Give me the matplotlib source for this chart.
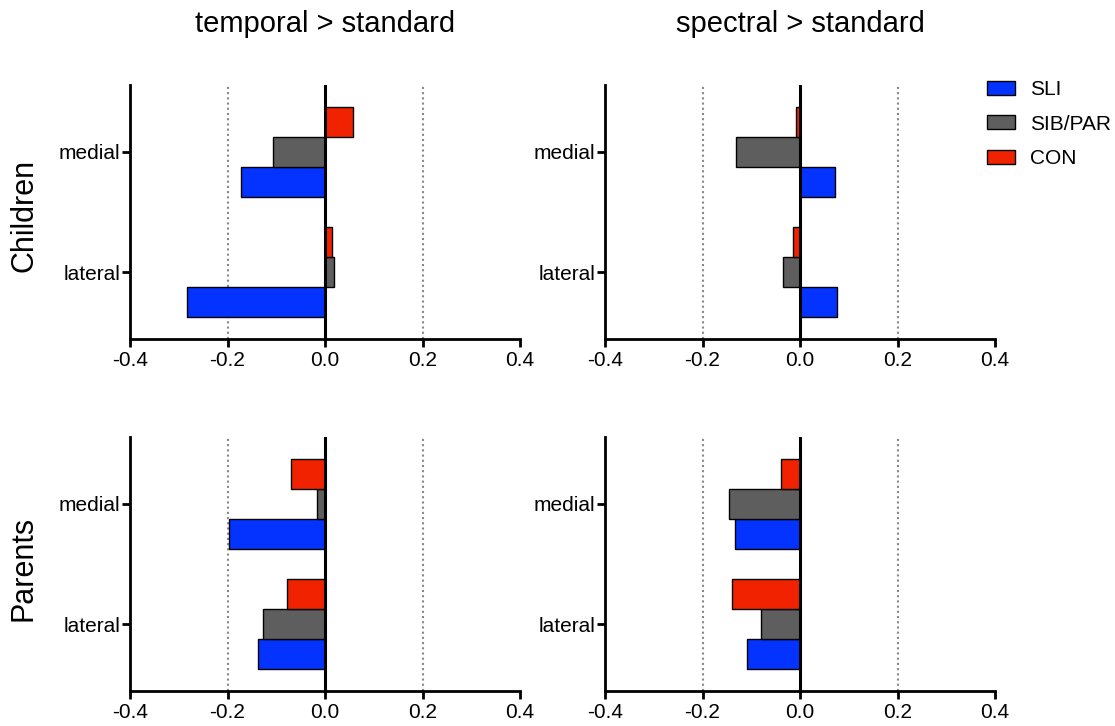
import matplotlib.pyplot as plt
from matplotlib.patches import Patch
import numpy as np

plt.rcParams['font.family'] = ['Liberation Sans', 'DejaVu Sans']

regions = ['lateral', 'medial']  # y = 0, 1 (medial on top)
groups = ['SLI', 'SIB/PAR', 'CON']
colors = {'SLI': '#0433FF', 'SIB/PAR': '#5E5E5E', 'CON': '#F12200'}
titles = ['temporal > standard', 'spectral > standard']
rows = ['Children', 'Parents']

# values per group: [lateral, medial]
child_temporal = {'SLI': [-0.283, -0.173], 'SIB/PAR': [0.019, -0.106], 'CON': [0.014, 0.057]}
child_spectral = {'SLI': [0.075, 0.072], 'SIB/PAR': [-0.035, -0.131], 'CON': [-0.015, -0.008]}
parent_temporal = {'SLI': [-0.138, -0.197], 'SIB/PAR': [-0.128, -0.017], 'CON': [-0.078, -0.069]}
parent_spectral = {'SLI': [-0.108, -0.134], 'SIB/PAR': [-0.080, -0.145], 'CON': [-0.140, -0.040]}

panels = [[child_temporal, child_spectral], [parent_temporal, parent_spectral]]

fig = plt.figure(figsize=(11.15, 7.26), dpi=100)

lefts = [130 / 1115, 605 / 1115]
bottoms = [1 - 339 / 726, 1 - 691 / 726]
w = 390 / 1115
h = 254 / 726
bh = 0.248
offs = {'SLI': -bh, 'SIB/PAR': 0.0, 'CON': bh}

for r in range(2):
    for c in range(2):
        ax = fig.add_axes([lefts[c], bottoms[r], w, h])
        data = panels[r][c]
        y = np.arange(len(regions))
        for g in groups:
            ax.barh(y + offs[g], data[g], height=bh, color=colors[g],
                    edgecolor='black', linewidth=1, zorder=3)
        ax.axvline(0, color='black', lw=2.2, zorder=4)
        for xv in (-0.2, 0.2):
            ax.axvline(xv, color='#888888', lw=1.5, ls=(0, (1, 1.5)), zorder=1)
        ax.set_xlim(-0.4, 0.4)
        ax.set_ylim(-0.55, 1.55)
        ax.set_xticks([-0.4, -0.2, 0.0, 0.2, 0.4])
        ax.set_xticklabels(['-0.4', '-0.2', '0.0', '0.2', '0.4'])
        ax.set_yticks(y)
        ax.set_yticklabels(regions)
        ax.spines['top'].set_visible(False)
        ax.spines['right'].set_visible(False)
        ax.spines['left'].set_linewidth(2)
        ax.spines['bottom'].set_linewidth(2)
        ax.tick_params(axis='both', labelsize=15, width=2, length=6, direction='out')
        ax.tick_params(axis='y', pad=1)
        ax.tick_params(axis='x', pad=3)

for c in range(2):
    fig.text(lefts[c] + w / 2, 1 - 24 / 726, titles[c], ha='center', va='center', fontsize=21)

fig.text(24 / 1115, 1 - 215 / 726, rows[0], rotation=90, ha='center', va='center', fontsize=22)
fig.text(24 / 1115, 1 - 568 / 726, rows[1], rotation=90, ha='center', va='center', fontsize=22)

handles = [Patch(facecolor=colors[g], edgecolor='black', linewidth=1) for g in groups]
fig.legend(handles, groups, loc='upper left', bbox_to_anchor=(987 / 1115, 1 - 80 / 726),
           frameon=False, fontsize=15, handlelength=1.35, handleheight=0.65,
           labelspacing=0.75, handletextpad=0.7, borderpad=0, borderaxespad=0)

fig.savefig('out.png', dpi=100)
